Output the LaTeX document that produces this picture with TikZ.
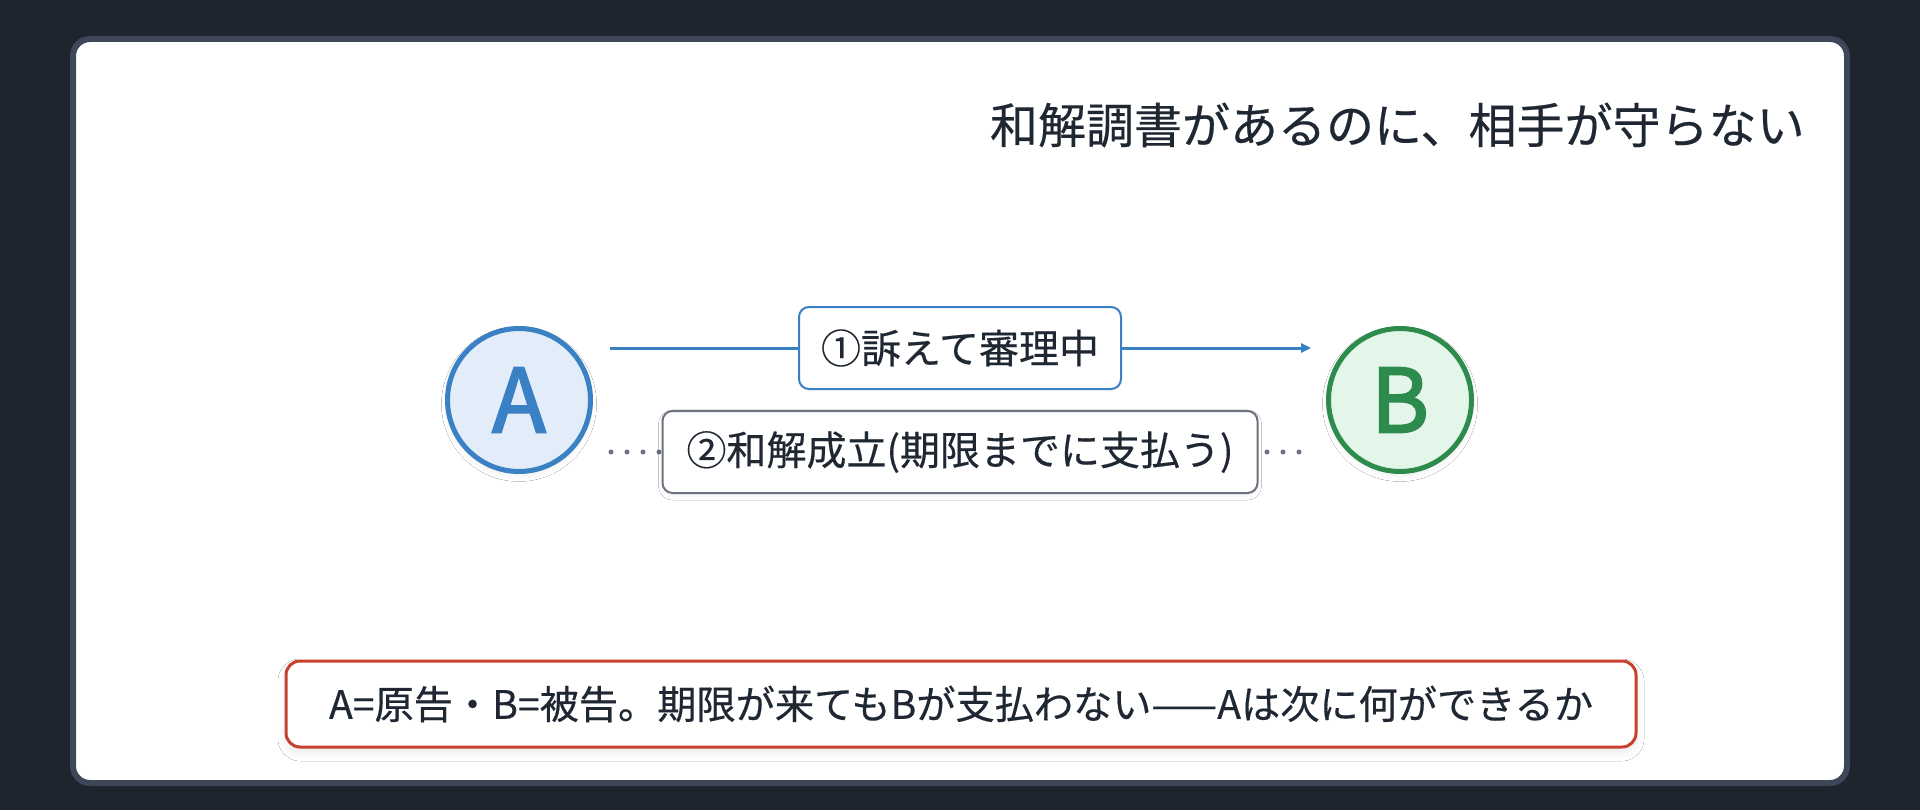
\documentclass[tikz,border=0pt]{standalone}
\usepackage{fontspec}
\setmainfont{Noto Sans CJK JP}[FakeBold=0.4]
\newfontfamily\partyfont{Noto Sans CJK JP}[FakeBold=2.5]
\usetikzlibrary{arrows.meta,shadows.blur}
\definecolor{night}{RGB}{30, 37, 47}
\definecolor{frame}{RGB}{61, 71, 87}
\definecolor{ink}{RGB}{31, 39, 51}
\definecolor{plai}{RGB}{58, 128, 196}
\definecolor{plaifill}{RGB}{227, 237, 249}
\definecolor{defe}{RGB}{46, 139, 78}
\definecolor{defefill}{RGB}{228, 245, 233}
\definecolor{sett}{RGB}{107, 114, 128}
\definecolor{warn}{RGB}{200, 65, 47}

\begin{document}
\begin{tikzpicture}[x=0.5pt, y=0.5pt]
    \tikzstyle{ablock} = [circle, draw=plai, line width=2.5pt, fill=plaifill, text=plai,
    minimum size=71.5pt, inner sep=0pt, font=\partyfont\fontsize{44}{44}\selectfont,
    blur shadow={shadow xshift=0pt, shadow yshift=-2pt, shadow blur radius=3pt, shadow opacity=7}];
    \tikzstyle{bblock} = [circle, draw=defe, line width=2.5pt, fill=defefill, text=defe,
    minimum size=71.5pt, inner sep=0pt, font=\partyfont\fontsize{44}{44}\selectfont,
    blur shadow={shadow xshift=0pt, shadow yshift=-2pt, shadow blur radius=3pt, shadow opacity=7}];
    \tikzstyle{suitblock} = [rectangle, draw=plai, line width=1pt, fill=white, text=ink,
    minimum width=161pt, minimum height=41pt, inner sep=0pt, rounded corners=5pt,
    font=\fontsize{20}{20}\selectfont];
    \tikzstyle{dealblock} = [rectangle, draw=sett, line width=1pt, fill=white, text=ink,
    minimum width=297.5pt, minimum height=41pt, inner sep=0pt, rounded corners=5pt,
    font=\fontsize{20}{20}\selectfont,
    blur shadow={shadow xshift=0pt, shadow yshift=-1.5pt, shadow blur radius=2pt, shadow opacity=5}];
    \tikzstyle{askblock} = [rectangle, draw=warn, line width=1.5pt, fill=white, text=ink,
    minimum width=675pt, minimum height=43pt, inner sep=0pt, rounded corners=7pt,
    font=\fontsize{19.6}{19.6}\selectfont,
    blur shadow={shadow xshift=0pt, shadow yshift=-3pt, shadow blur radius=4pt, shadow opacity=8}];
    \tikzstyle{suitline} = [draw=plai, line width=1.5pt, -{Triangle[length=5pt, width=4.5pt]},
    shorten <=8.5pt, shorten >=7.5pt];
    \tikzstyle{dealline} = [draw=sett, line width=2.5pt, line cap=round,
    dash pattern=on 0pt off 8pt, shorten <=9pt, shorten >=13.4pt];

    \useasboundingbox (0,0) rectangle (1920,810);
    % background and panel
    \fill[night] (0,0) rectangle (1920,810);
    \draw[frame, line width=3pt, fill=white, rounded corners=8.5pt] (73,27) rectangle (1847,771);

    \node[ink, anchor=east, inner sep=0pt, font=\fontsize{24}{24}\selectfont] (title) at (1805,685)
      {和解調書があるのに、相手が守らない};

    % the two parties
    \node [ablock] (A) at (519,410) {A};
    \node [bblock] (B) at (1400,410) {B};

    % % Drawing the links
    \draw [suitline] ([yshift=26pt]A.east) -- ([yshift=26pt]B.west);
    \draw [dealline] ([yshift=-26pt]A.east) -- ([yshift=-26pt]B.west);

    \node [suitblock] (suit) at (960,462) {①訴えて審理中};
    \node [dealblock] (deal) at (960,358) {②和解成立(期限までに支払う)};

    % question
    \node [askblock] (ask) at (961,106) {A=原告・B=被告。期限が来てもBが支払わない——Aは次に何ができるか};
\end{tikzpicture}
\end{document}
